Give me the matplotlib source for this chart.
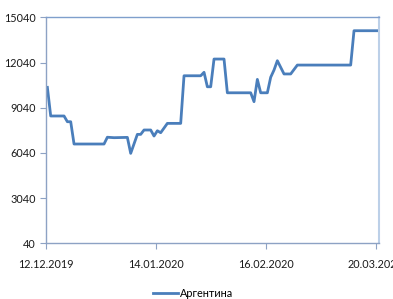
import matplotlib
matplotlib.use("Agg")
import matplotlib.pyplot as plt
import pandas as pd

plt.rcParams['font.family'] = ['Lato', 'DejaVu Sans']

series_name = "Аргентина"
dates = ["2019-12-12", "2019-12-13", "2019-12-17", "2019-12-18", "2019-12-19",
         "2019-12-20", "2019-12-29", "2019-12-30", "2020-01-01", "2020-01-05",
         "2020-01-06", "2020-01-08", "2020-01-09", "2020-01-10", "2020-01-12",
         "2020-01-13", "2020-01-14", "2020-01-15", "2020-01-17", "2020-01-21",
         "2020-01-22", "2020-01-27", "2020-01-28", "2020-01-29", "2020-01-30",
         "2020-01-31", "2020-02-03", "2020-02-04", "2020-02-11", "2020-02-12",
         "2020-02-13", "2020-02-14", "2020-02-16", "2020-02-17", "2020-02-18",
         "2020-02-19", "2020-02-21", "2020-02-23", "2020-02-25", "2020-03-12",
         "2020-03-13", "2020-03-20"]
values = [10390, 8490, 8490, 8110, 8110,
          6630, 6630, 7080, 7050, 7070,
          6010, 7270, 7270, 7560, 7560,
          7160, 7510, 7380, 8000, 8000,
          11160, 11160, 11390, 10430, 10430,
          12270, 12270, 10030, 10030, 9440,
          10920, 10030, 10030, 11060, 11540,
          12160, 11280, 11280, 11870, 11870,
          14150, 14150]
axis_start = "2019-12-12"
axis_days = 100
tick_days = [0, 33, 66, 99]
y_ticks = [40, 3040, 6040, 9040, 12040, 15040]

x = pd.to_datetime(dates) + pd.Timedelta(hours=12)
start = pd.Timestamp(axis_start)

fig = plt.figure(figsize=(3.93, 2.99), dpi=100)
ax = fig.add_axes([0.1163, 0.1863, 0.9644 - 0.1163, 0.9421 - 0.1863])
ax.plot(x, values, color='#4a7ebb', linewidth=2.0, label=series_name,
        solid_joinstyle='round')

ax.set_xlim(start, start + pd.Timedelta(days=axis_days))
ax.set_ylim(y_ticks[0], y_ticks[-1])
ax.set_yticks(y_ticks)
ax.set_yticklabels([str(v) for v in y_ticks])
tick_dates = [start + pd.Timedelta(days=d) for d in tick_days]
ax.set_xticks(tick_dates)
ax.set_xticklabels([d.strftime('%d.%m.%Y') for d in tick_dates])

for s in ['left', 'bottom']:
    ax.spines[s].set_color('#8da2c4')
    ax.spines[s].set_linewidth(1.0)
ax.spines['top'].set_color('#7f9fcc')
ax.spines['top'].set_linewidth(1.0)
ax.spines['right'].set_color('#bcd0e8')
ax.spines['right'].set_linewidth(1.5)

ax.tick_params(axis='both', which='major', length=4, width=0.8,
               color='#8da2c4', labelsize=7.8, labelcolor='#1a1a1a', pad=3)
ax.tick_params(axis='x', pad=7)

fig.legend(loc='center', bbox_to_anchor=(0.491, 0.02), frameon=False,
           fontsize=7.8, handlelength=2.3, handletextpad=0.15,
           borderpad=0.1)

fig.savefig('out.png', dpi=100)
